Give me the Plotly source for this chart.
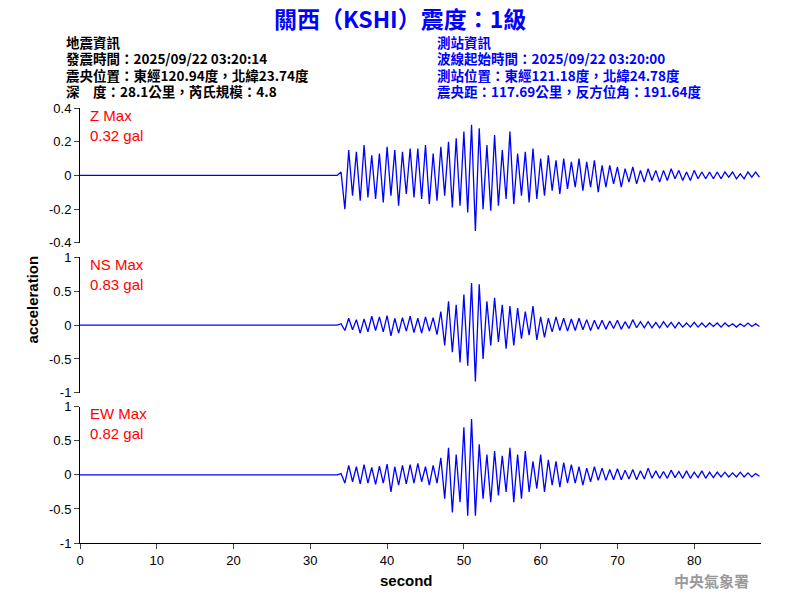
import numpy as np
import plotly.graph_objects as go

t0 = 34.0
dt = 0.5
z_vals = [0.02,-0.20,0.15,-0.12,0.14,-0.15,0.18,-0.13,0.12,-0.14,
0.13,-0.16,0.17,-0.12,0.15,-0.18,0.14,-0.11,0.16,-0.13,
0.16,-0.14,0.18,-0.17,0.13,-0.15,0.17,-0.12,0.20,-0.19,
0.22,-0.18,0.26,-0.22,0.30,-0.33,0.28,-0.20,0.18,-0.21,
0.24,-0.18,0.15,-0.14,0.26,-0.17,0.13,-0.12,0.14,-0.16,
0.16,-0.14,0.10,-0.12,0.12,-0.09,0.09,-0.11,0.10,-0.08,
0.08,-0.07,0.10,-0.09,0.08,-0.07,0.09,-0.10,0.06,-0.07,
0.06,-0.05,0.05,-0.07,0.04,-0.04,0.05,-0.05,0.03,-0.04,
0.04,-0.03,0.03,-0.04,0.03,-0.03,0.04,-0.02,0.03,-0.03,
0.02,-0.03,0.03,-0.02,0.02,-0.02,0.02,-0.02,0.02,-0.02,
0.02,-0.01,0.02,-0.02,0.01,-0.02,0.02,-0.01,0.02,-0.01]
ns_vals = [0.02,-0.08,0.10,-0.07,0.08,-0.12,0.09,-0.10,0.13,-0.08,
0.12,-0.10,0.14,-0.16,0.10,-0.12,0.11,-0.09,0.13,-0.11,
0.10,-0.12,0.12,-0.09,0.11,-0.14,0.20,-0.30,0.35,-0.40,
0.30,-0.55,0.45,-0.60,0.62,-0.83,0.60,-0.50,0.35,-0.30,
0.40,-0.25,0.30,-0.35,0.28,-0.30,0.25,-0.20,0.20,-0.15,
0.28,-0.22,0.12,-0.18,0.10,-0.10,0.12,-0.08,0.10,-0.09,
0.09,-0.08,0.10,-0.07,0.08,-0.08,0.07,-0.06,0.07,-0.06,
0.06,-0.05,0.07,-0.06,0.05,-0.05,0.08,-0.04,0.05,-0.04,
0.05,-0.04,0.04,-0.04,0.05,-0.03,0.04,-0.04,0.04,-0.03,
0.03,-0.03,0.04,-0.03,0.03,-0.03,0.03,-0.02,0.03,-0.03,
0.03,-0.02,0.02,-0.03,0.02,-0.02,0.03,-0.02,0.02,-0.02]
ew_vals = [0.02,-0.12,0.14,-0.10,0.12,-0.13,0.15,-0.12,0.11,-0.14,
0.13,-0.12,0.16,-0.25,0.12,-0.15,0.14,-0.13,0.15,-0.12,
0.17,-0.10,0.12,-0.15,0.14,-0.12,0.25,-0.35,0.40,-0.55,
0.30,-0.40,0.70,-0.60,0.82,-0.60,0.45,-0.35,0.30,-0.40,
0.35,-0.30,0.28,-0.25,0.40,-0.40,0.30,-0.35,0.35,-0.25,
0.20,-0.20,0.30,-0.25,0.22,-0.15,0.20,-0.18,0.18,-0.12,
0.15,-0.12,0.12,-0.15,0.10,-0.10,0.12,-0.08,0.10,-0.08,
0.08,-0.07,0.09,-0.07,0.07,-0.06,0.08,-0.07,0.06,-0.06,
0.10,-0.05,0.06,-0.05,0.05,-0.05,0.07,-0.04,0.05,-0.05,
0.06,-0.05,0.04,-0.04,0.06,-0.05,0.04,-0.04,0.04,-0.03,
0.04,-0.03,0.03,-0.03,0.04,-0.03,0.03,-0.03,0.02,-0.02]
labels = ["Z Max", "NS Max", "EW Max"]
maxes = ["0.32 gal", "0.83 gal", "0.82 gal"]
yranges = [[-0.4, 0.4], [-1, 1], [-1, 1]]
ytickvals = [[-0.4, -0.2, 0, 0.2, 0.4], [-1, -0.5, 0, 0.5, 1], [-1, -0.5, 0, 0.5, 1]]
yticktext = [["-0.4", "-0.2", "0", "0.2", "0.4"], ["-1", "-0.5", "0", "0.5", "1"], ["-1", "-0.5", "0", "0.5", "1"]]
domains = [[0.690, 1.0], [0.345, 0.657], [0.0, 0.313]]

fig = go.Figure()
font = "Liberation Sans, Arial"
for i, vals in enumerate([z_vals, ns_vals, ew_vals]):
    t = [0.0, t0 - dt] + [t0 + dt * k for k in range(len(vals))]
    y = [0.0, 0.0] + vals
    ax = "" if i == 0 else str(i + 1)
    fig.add_trace(go.Scatter(x=t, y=y, mode="lines", line=dict(color="#0000ff", width=1.3),
                             xaxis="x" + ax, yaxis="y" + ax, showlegend=False, hoverinfo="skip"))
    fig.update_layout(**{
        "xaxis" + ax: dict(range=[0, 88.7], domain=[0, 1], anchor="y" + ax, showline=(i == 2),
                           linecolor="black", linewidth=1, ticks="outside" if i == 2 else "",
                           showticklabels=(i == 2), tickvals=[0, 10, 20, 30, 40, 50, 60, 70, 80],
                           showgrid=False, zeroline=False, ticklen=5,
                           tickfont=dict(size=13, family=font),
                           matches=None if i == 0 else "x"),
        "yaxis" + ax: dict(range=yranges[i], domain=domains[i], anchor="x" + ax, showline=True,
                           linecolor="black", linewidth=1, ticks="outside", ticklen=5,
                           tickvals=ytickvals[i], ticktext=yticktext[i], showgrid=False, zeroline=False),
    })
    fig.add_annotation(text=labels[i] + "<br>" + maxes[i], xref="paper", yref="paper", x=0.012,
                       y=domains[i][1] + 0.008, xanchor="left", yanchor="top", showarrow=False, align="left",
                       font=dict(color="red", size=15, family=font))

cjk = "Noto Sans CJK TC"
fig.add_annotation(text="<b>關西（KSHI）震度：1級</b>", xref="paper", yref="paper", x=0.47, y=1.0,
                   yshift=90, xanchor="center", yanchor="middle", showarrow=False,
                   font=dict(color="#0000ff", size=23, family=cjk))
left = ["地震資訊", "發震時間：2025/09/22 03:20:14", "震央位置：東經120.94度，北緯23.74度", "深　度：28.1公里，芮氏規模：4.8"]
right = ["測站資訊", "波線起始時間：2025/09/22 03:20:00", "測站位置：東經121.18度，北緯24.78度", "震央距：117.69公里，反方位角：191.64度"]
for j in range(4):
    fig.add_annotation(text="<b>" + left[j] + "</b>", xref="paper", yref="paper", x=-16 / 681, y=1.0,
                       yshift=66 - 16.3 * j, xanchor="left", yanchor="middle", showarrow=False,
                       font=dict(color="black", size=13.5, family=cjk))
    fig.add_annotation(text="<b>" + right[j] + "</b>", xref="paper", yref="paper", x=355 / 681, y=1.0,
                       yshift=66 - 16.3 * j, xanchor="left", yanchor="middle", showarrow=False,
                       font=dict(color="#0000ff", size=13.5, family=cjk))
fig.add_annotation(text="<b>中央氣象署</b>", xref="paper", yref="paper", x=1.0, xshift=-10, y=0, yshift=-37,
                   xanchor="right", yanchor="middle", showarrow=False,
                   font=dict(color="#999999", size=15, family=cjk))
fig.add_annotation(text="<b>second</b>", xref="paper", yref="paper", x=0.48, y=0, yshift=-37, xanchor="center",
                   yanchor="middle", showarrow=False, font=dict(color="black", size=15, family=font))
fig.add_annotation(text="<b>acceleration</b>", xref="paper", yref="paper", x=0, xshift=-48, y=0.56, textangle=-90,
                   xanchor="center", yanchor="middle", showarrow=False, font=dict(color="black", size=15, family=font))

fig.update_layout(width=800, height=600, margin=dict(l=72, r=47, t=100, b=65, autoexpand=False),
                  plot_bgcolor="white", paper_bgcolor="white",
                  font=dict(family=font, size=13, color="black"))
fig.write_html("out.html")
